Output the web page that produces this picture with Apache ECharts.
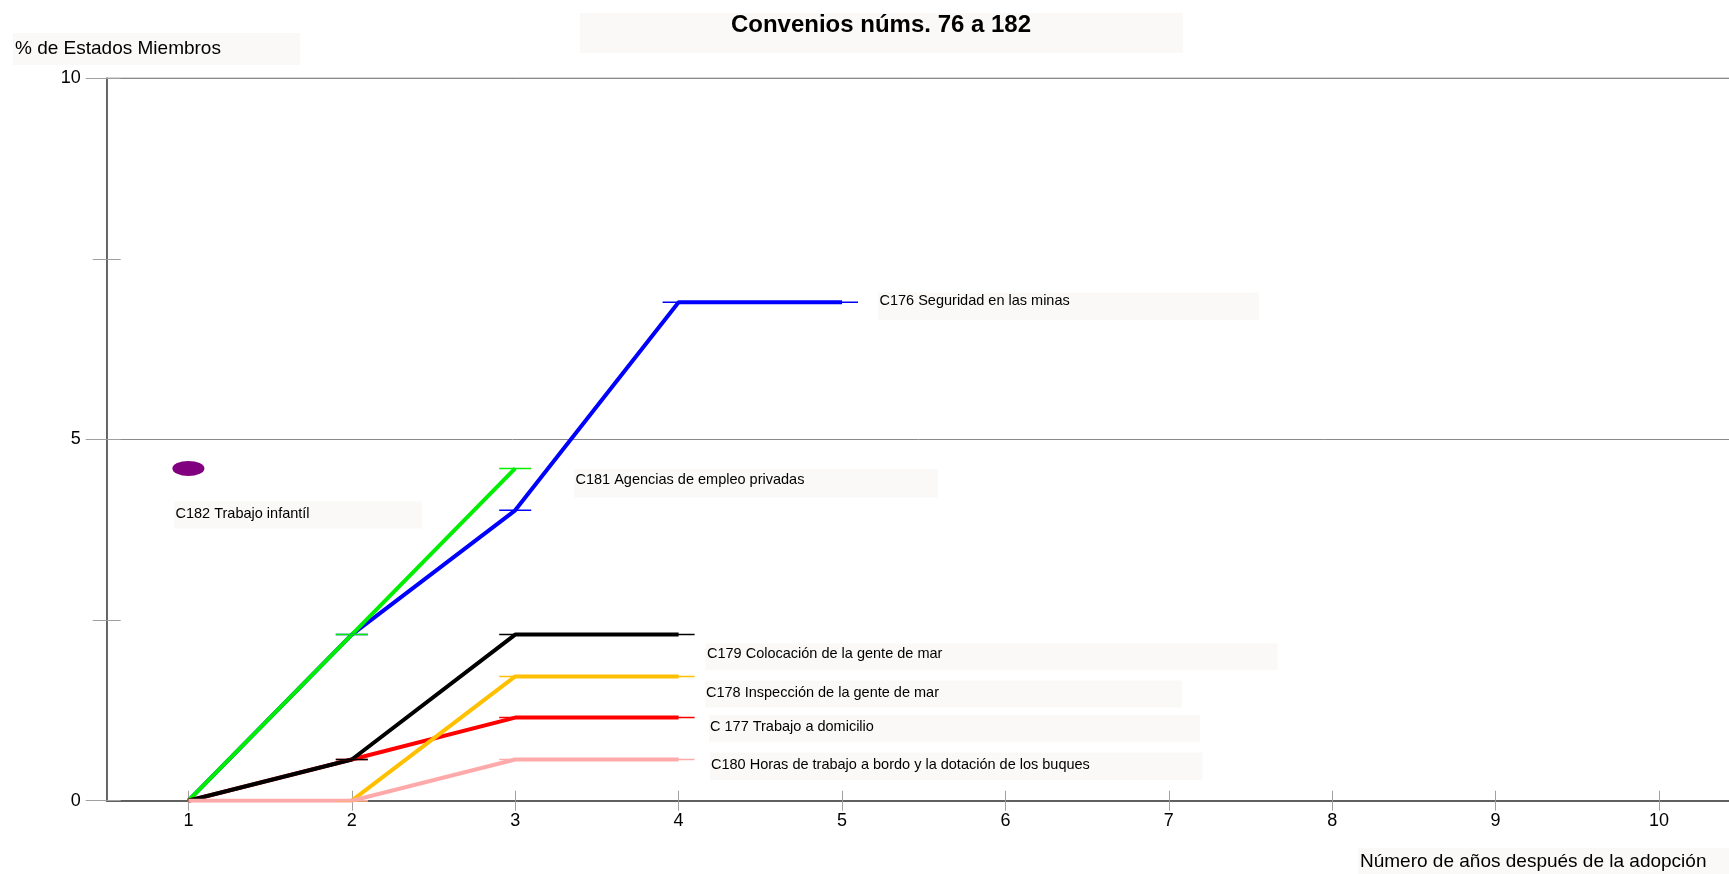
<!DOCTYPE html>
<html>
<head>
<meta charset="utf-8">
<script src="https://cdn.jsdelivr.net/npm/echarts@6/dist/echarts.min.js"></script>
<style>
html,body{margin:0;padding:0;background:#fff;}
#chart{width:1729px;height:874px;}
</style>
</head>
<body>
<div id="chart"></div>
<script>
// ---- data ----
const years = ['1','2','3','4','5','6','7','8','9','10'];
const c176 = [0, 2.3, 4.02, 6.9, 6.9];
const c181 = [0, 2.3, 4.6];
const c179 = [0, 0.57, 2.3, 2.3];
const c177 = [0, 0.57, 1.15, 1.15];
const c178 = [null, 0, 1.72, 1.72];
const c180 = [0, 0, 0.57, 0.57];
const c182 = [4.6];
const titleText = 'Convenios núms. 76 a 182';
const yName = '% de Estados Miembros';
const xName = 'Número de años después de la adopción';
const names = {
  c176: 'C176 Seguridad en las minas',
  c181: 'C181 Agencias de empleo privadas',
  c182: 'C182 Trabajo infantíl',
  c179: 'C179 Colocación de la gente de mar',
  c178: 'C178 Inspección de la gente de mar',
  c177: 'C 177 Trabajo a domicilio',
  c180: 'C180 Horas de trabajo a bordo y la dotación de los buques'
};

// ---- layout / style ----
const FONT = '"Liberation Sans", Arial, sans-serif';
const BOX = '#faf9f7';
const annotations = [
  {text: titleText, box: [580, 13, 603, 40], tx: 881, ty: 25, size: 24, bold: true, align: 'center'},
  {text: yName, box: [13, 33, 287, 32], tx: 15, ty: 48.5, size: 19},
  {text: xName, box: [1358, 848, 380, 30], tx: 1360, ty: 862, size: 19},
  {text: names.c176, box: [878, 292.5, 381, 27.5], tx: 879.5, ty: 300.5, size: 14.5},
  {text: names.c181, box: [574, 469, 364, 28.5], tx: 575.5, ty: 479.5, size: 14.5},
  {text: names.c182, box: [174, 501.5, 248, 27], tx: 175.5, ty: 513.5, size: 14.5},
  {text: names.c179, box: [705.5, 643.5, 572, 26.5], tx: 707, ty: 653.5, size: 14.5},
  {text: names.c178, box: [705, 680.5, 477, 27], tx: 706, ty: 692.5, size: 14.5},
  {text: names.c177, box: [709, 715, 491, 27], tx: 710, ty: 726.5, size: 14.5},
  {text: names.c180, box: [710, 752.5, 492.5, 27.5], tx: 711, ty: 764.5, size: 14.5}
];

const graphic = [];
annotations.forEach(a => {
  graphic.push({type: 'rect', shape: {x: a.box[0], y: a.box[1], width: a.box[2], height: a.box[3]},
    style: {fill: BOX}, z: 1, silent: true});
  graphic.push({type: 'text', z: 2, silent: true,
    style: {text: a.text, x: a.tx, y: a.ty, fill: '#000',
      font: (a.bold ? 'bold ' : '') + a.size + 'px ' + FONT,
      align: a.align || 'left', verticalAlign: 'middle',
      textAlign: a.align || 'left', textVerticalAlign: 'middle'}});
});

function lineSeries(name, data, color, dashColor) {
  return {
    type: 'line', name: name, data: data,
    xAxisIndex: 0, yAxisIndex: 0,
    lineStyle: {color: color, width: 4},
    itemStyle: {color: dashColor || color, opacity: 1},
    symbol: function (v, p) { return p.dataIndex === 0 ? 'none' : 'rect'; },
    symbolSize: [32, 1.5],
    showSymbol: true,
    emphasis: {disabled: true},
    z: 3
  };
}

const option = {
  animation: false,
  backgroundColor: '#fff',
  textStyle: {fontFamily: FONT},
  graphic: graphic,
  grid: {left: 106.7, top: 78.3, width: 1634, height: 722.4, show: true,
    outerBoundsMode: 'none', containLabel: false,
    borderColor: '#666', borderWidth: 1.2, backgroundColor: 'transparent'},
  xAxis: [
    {type: 'category', data: years, boundaryGap: true, position: 'bottom',
      axisLine: {show: true, onZero: false, lineStyle: {color: '#606060', width: 1.8}},
      axisTick: {show: true, alignWithLabel: true, inside: true, length: 10, lineStyle: {color: '#a0a0a0', width: 1}},
      axisLabel: {fontSize: 18, color: '#000', margin: 11, fontFamily: FONT},
      splitLine: {show: false}},
    {type: 'category', data: years, boundaryGap: true, position: 'bottom',
      axisLine: {show: false},
      axisTick: {show: true, alignWithLabel: true, inside: false, length: 10, lineStyle: {color: '#a0a0a0', width: 1}},
      axisLabel: {show: false},
      splitLine: {show: false}}
  ],
  yAxis: [
    {type: 'value', min: 0, max: 10, interval: 5, position: 'left',
      axisLine: {show: true, lineStyle: {color: '#606060', width: 1.8}},
      axisTick: {show: true, length: 21, lineStyle: {color: '#a0a0a0', width: 1}},
      minorTick: {show: true, splitNumber: 2, length: 14, lineStyle: {color: '#a0a0a0', width: 1}},
      axisLabel: {fontSize: 18, color: '#000', margin: 26, fontFamily: FONT},
      splitLine: {show: true, lineStyle: {color: '#8a8a8a', width: 1}}},
    {type: 'value', min: 0, max: 10, interval: 2.5, position: 'left',
      axisLine: {show: false},
      axisTick: {show: true, inside: true, length: 14, lineStyle: {color: '#a0a0a0', width: 1}},
      axisLabel: {show: false},
      splitLine: {show: false}}
  ],
  series: [
    lineSeries(names.c176, c176, '#0000ff'),
    lineSeries(names.c181, c181, '#00ee00'),
    lineSeries(names.c177, c177, '#ff0000'),
    lineSeries(names.c179, c179, '#000000'),
    lineSeries(names.c178, c178, '#ffc000'),
    lineSeries(names.c180, c180, '#ffaaaa'),
    {type: 'scatter', name: names.c182, data: c182, xAxisIndex: 0, yAxisIndex: 0,
      symbol: 'circle', symbolSize: [32, 15], itemStyle: {color: '#800080', opacity: 1},
      emphasis: {disabled: true}, z: 4}
  ]
};

const chart = echarts.init(document.getElementById('chart'), null, {renderer: 'canvas'});
chart.setOption(option);
</script>
</body>
</html>
